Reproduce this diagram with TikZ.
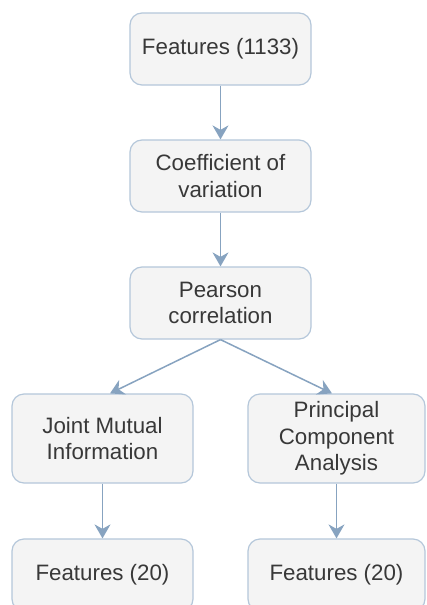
\documentclass[tikz,border=0pt]{standalone}
\usepackage{fontspec}
\setmainfont{Liberation Sans}
\usetikzlibrary{arrows.meta,calc}
\definecolor{boxfill}{HTML}{F4F4F4}
\definecolor{boxline}{HTML}{B5C7DA}
\definecolor{arrowc}{HTML}{87A3C0}
\definecolor{txt}{HTML}{383838}
\tikzset{
  x=1pt,y=1pt,
  stage/.style={draw=boxline, line width=1.2pt, fill=boxfill, rounded corners=12pt,
    minimum width=181pt, minimum height=72pt, inner sep=0pt, align=center,
    text=txt, font=\fontsize{22.3}{26.5}\selectfont},
  flow/.style={draw=arrowc, line width=1.5pt, -{Stealth[length=14pt,width=16pt,inset=4.5pt]}}
}
\begin{document}
\begin{tikzpicture}
\clip (0,0) rectangle (426,-605);
\fill[white] (0,0) rectangle (426,-605);
\node[stage] (f1133) at (220.5,-49) {Features (1133)};
\node[stage] (cv) at (220.5,-176) {Coefficient of\\variation};
\node[stage] (pc) at (220.5,-303) {Pearson\\correlation};
\node[stage, minimum height=89pt] (jmi) at (102.5,-438.5) {Joint Mutual\\Information};
\node[stage, minimum height=89pt, minimum width=177pt] (pca) at (336.5,-438.5) {Principal\\Component\\Analysis};
\node[stage] (f20a) at (102.5,-575) {Features (20)};
\node[stage, minimum width=177pt] (f20b) at (336.5,-575) {Features (20)};
\draw[flow] (f1133) -- (cv);
\draw[flow] (cv) -- (pc);
\draw[flow] (pc.south) -- ($(jmi.north)+(7.5,0)$);
\draw[flow] (pc.south) -- ($(pca.north)+(-4.5,0)$);
\draw[flow] (jmi) -- (f20a);
\draw[flow] (pca) -- (f20b);
\end{tikzpicture}
\end{document}
